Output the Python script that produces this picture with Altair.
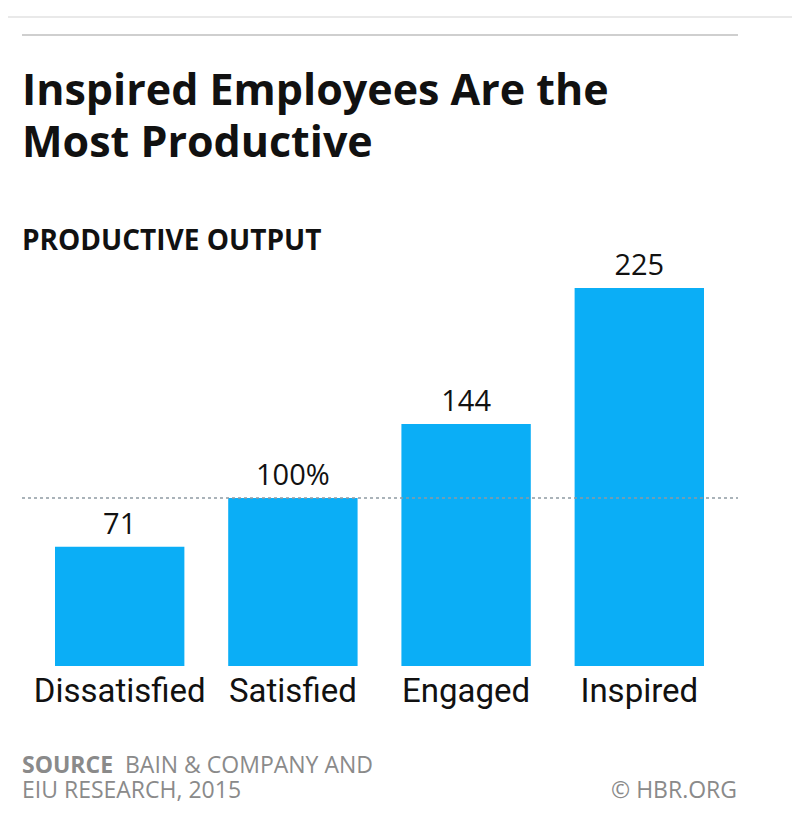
import altair as alt
import pandas as pd

# ---- data ----
categories = ["Dissatisfied", "Satisfied", "Engaged", "Inspired"]
values = [71, 100, 144, 225]
value_labels = ["71", "100%", "144", "225"]
reference_value = [100]

title_lines = ["Inspired Employees Are the", "Most Productive"]
subtitle = "PRODUCTIVE OUTPUT"
source_bold = "SOURCE"
source_line1 = "BAIN & COMPANY AND"
source_line2 = "EIU RESEARCH, 2015"
credit = "© HBR.ORG"

df = pd.DataFrame({"category": categories, "value": values, "label": value_labels})
ref_df = pd.DataFrame({"ref": reference_value})
one = pd.DataFrame({"a": [0]})

W, H = 784, 808
FONT = "Roboto"
HEAD = "Open Sans"
BLUE = "#0BAEF6"
GREY = "#8a8a8a"
INK = "#111111"

xscale = alt.Scale(range=[47, 696], paddingInner=0.253, paddingOuter=0)
yscale = alt.Scale(domain=[0, 225], range=[658, 280], nice=False, zero=True)
x = alt.X("category:N", sort=categories, axis=None, scale=xscale)
y = alt.Y("value:Q", axis=None, scale=yscale)

bars = alt.Chart(df).mark_bar(color=BLUE).encode(x=x, y=y)

vals = alt.Chart(df).mark_text(
    dy=-13, baseline="alphabetic", fontSize=29, font=HEAD, color=INK
).encode(x=x, y=y, text="label:N")

cats = alt.Chart(df).mark_text(
    baseline="alphabetic", fontSize=33, font=FONT, color=INK
).encode(x=x, y=alt.value(694), text="category:N")

ref = alt.Chart(ref_df).mark_rule(
    strokeDash=[3, 3], color="#8f9aa3", strokeWidth=1.5
).encode(y=alt.Y("ref:Q", axis=None, scale=yscale), x=alt.value(14), x2=alt.value(730))


def txt(s, xp, yp, size, weight="normal", color=INK, align="left", font=FONT):
    return alt.Chart(one).mark_text(
        text=s, fontSize=size, fontWeight=weight, color=color, font=font,
        align=align, baseline="alphabetic"
    ).encode(x=alt.value(xp), y=alt.value(yp))


def hline(xa, xb, yp, color, width):
    return alt.Chart(one).mark_rule(color=color, strokeWidth=width).encode(
        x=alt.value(xa), x2=alt.value(xb), y=alt.value(yp)
    )


layers = [
    hline(0, W, 9, "#e2e2e2", 1.5),
    hline(14, 730, 27, "#cfcfcf", 2),
    txt(title_lines[0], 14, 97, 43, "bold", font=HEAD),
    txt(title_lines[1], 14, 149, 43, "bold", font=HEAD),
    txt(subtitle, 14, 242, 28, "bold", font=HEAD),
    bars,
    ref,
    vals,
    cats,
    txt(source_bold, 14, 765, 23, "bold", GREY, font=HEAD),
    txt(source_line1, 117, 765, 23, "normal", GREY, font=HEAD),
    txt(source_line2, 14, 790, 23, "normal", GREY, font=HEAD),
    txt(credit, 729, 790, 23, "normal", GREY, "right", font=HEAD),
]

chart = alt.layer(*layers).properties(
    width=W, height=H, autosize=alt.AutoSizeParams(type="none"), padding=0,
    background="white"
).configure_view(stroke=None)

chart.save("out.html", embed_options={"renderer": "svg", "actions": False})
